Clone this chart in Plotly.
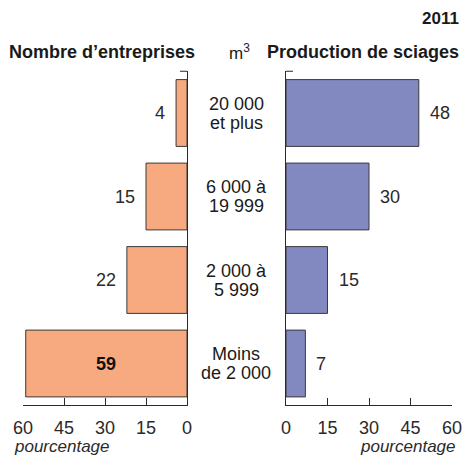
import plotly.graph_objects as go

categories = ["Moins<br>de 2 000", "2 000 à<br>5 999", "6 000 à<br>19 999", "20 000<br>et plus"]
entreprises = [59, 22, 15, 4]
production = [7, 15, 30, 48]
tick_vals = [0, 15, 30, 45, 60]
year_label = "2011"
left_title = "Nombre d’entreprises"
right_title = "Production de sciages"
unit_label = "m<sup>3</sup>"
axis_title = "pourcentage"

W, H = 463, 455
FONT = "Liberation Sans, Arial, sans-serif"
TXT = "#2a2a2a"
ORANGE = "#F7AA80"
BLUE = "#8289C1"
EDGE = "#3a3a3a"

def px(x):
    return x / W

def py(y):
    return 1 - y / H

cat_idx = list(range(len(categories)))

fig = go.Figure()
fig.add_trace(go.Bar(
    y=cat_idx, x=entreprises, orientation="h",
    marker=dict(color=ORANGE, line=dict(color=EDGE, width=1)),
    xaxis="x", yaxis="y", hoverinfo="skip", showlegend=False))
fig.add_trace(go.Bar(
    y=cat_idx, x=production, orientation="h",
    marker=dict(color=BLUE, line=dict(color=EDGE, width=1)),
    xaxis="x2", yaxis="y2", hoverinfo="skip", showlegend=False))

ydom = [py(405.25), py(71.25)]
common_x = dict(
    tickvals=tick_vals, ticks="inside", ticklen=7, tickcolor=TXT,
    showline=True, linecolor=TXT, linewidth=1, showgrid=False, zeroline=False,
    tickfont=dict(family=FONT, size=18, color=TXT), ticklabelstandoff=6,
    fixedrange=True)
fig.update_layout(
    width=W, height=H, margin=dict(l=0, r=0, t=0, b=0, autoexpand=False),
    paper_bgcolor="white", plot_bgcolor="white",
    bargap=0.2,
    xaxis=dict(common_x, range=[60, 0], domain=[px(23), px(187)], anchor="y"),
    xaxis2=dict(common_x, range=[0, 60], domain=[px(286), px(452)], anchor="y2"),
    yaxis=dict(domain=ydom, range=[-0.5, 3.5], showticklabels=False, ticks="",
               showline=True, linecolor=TXT, side="right", showgrid=False,
               zeroline=False, anchor="x", fixedrange=True),
    yaxis2=dict(domain=ydom, range=[-0.5, 3.5], showticklabels=False, ticks="",
                showline=True, linecolor=TXT, side="left", showgrid=False,
                zeroline=False, anchor="x2", fixedrange=True),
)

# small end ticks at the top of the vertical axes
fig.add_shape(type="line", xref="x domain", yref="y domain", x0=1, x1=0.957, y0=1, y1=1,
              line=dict(color=TXT, width=1))
fig.add_shape(type="line", xref="x2 domain", yref="y2 domain", x0=0, x1=0.042, y0=1, y1=1,
              line=dict(color=TXT, width=1))

ann = []
for i, v in enumerate(entreprises):
    if v >= 40:
        ann.append(dict(x=v / 2, y=i, xref="x", yref="y", text=f"<b>{v}</b>",
                        showarrow=False, xanchor="center", yanchor="middle",
                        font=dict(family=FONT, size=18, color="#111")))
    else:
        ann.append(dict(x=v, y=i, xref="x", yref="y", text=str(v), showarrow=False,
                        xanchor="right", yanchor="middle", xshift=-9,
                        font=dict(family=FONT, size=18, color=TXT)))
for i, v in enumerate(production):
    ann.append(dict(x=v, y=i, xref="x2", yref="y2", text=str(v), showarrow=False,
                    xanchor="left", yanchor="middle", xshift=9,
                    font=dict(family=FONT, size=18, color=TXT)))
for i, c in enumerate(categories):
    lines = c.split("<br>")
    for k, line in enumerate(lines):
        ann.append(dict(x=px(236.5), y=i, xref="paper", yref="y", text=line,
                        showarrow=False, xanchor="center", yanchor="middle",
                        yshift=9.5 - 19 * k,
                        font=dict(family=FONT, size=18, color="#1a1a1a")))

ann += [
    dict(x=px(461), y=py(19), xref="paper", yref="paper", text=f"<b>{year_label}</b>",
         showarrow=False, xanchor="right", yanchor="middle",
         font=dict(family=FONT, size=17, color="#1a1a1a")),
    dict(x=px(7), y=py(52), xref="paper", yref="paper", text=f"<b>{left_title}</b>",
         showarrow=False, xanchor="left", yanchor="middle",
         font=dict(family=FONT, size=18, color="#1a1a1a")),
    dict(x=px(227), y=py(52), xref="paper", yref="paper", text=unit_label,
         showarrow=False, xanchor="left", yanchor="middle",
         font=dict(family=FONT, size=17, color="#1a1a1a")),
    dict(x=px(461), y=py(52), xref="paper", yref="paper", text=f"<b>{right_title}</b>",
         showarrow=False, xanchor="right", yanchor="middle",
         font=dict(family=FONT, size=18, color="#1a1a1a")),
    dict(x=px(12), y=py(446), xref="paper", yref="paper", text=f"<i>{axis_title}</i>",
         showarrow=False, xanchor="left", yanchor="middle",
         font=dict(family=FONT, size=17, color=TXT)),
    dict(x=px(458), y=py(446), xref="paper", yref="paper", text=f"<i>{axis_title}</i>",
         showarrow=False, xanchor="right", yanchor="middle",
         font=dict(family=FONT, size=17, color=TXT)),
]
fig.update_layout(annotations=ann)

fig.write_html("out.html",
               config={"displayModeBar": False, "staticPlot": True},
               post_script="document.body.style.margin='0px';document.body.style.overflow='hidden';")
